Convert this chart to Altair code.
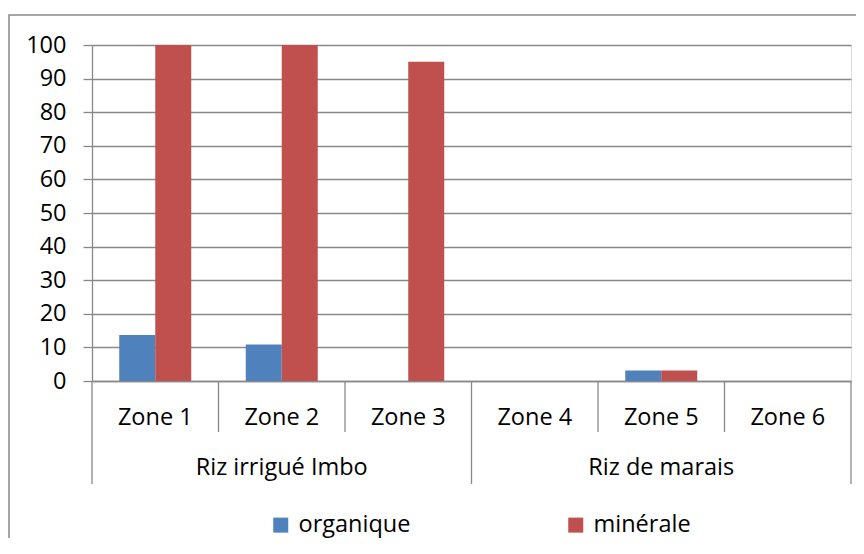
import altair as alt
import pandas as pd

zones = ["Zone 1", "Zone 2", "Zone 3", "Zone 4", "Zone 5", "Zone 6"]
zone_groups = ["Riz irrigué Imbo", "Riz irrigué Imbo", "Riz irrigué Imbo",
               "Riz de marais", "Riz de marais", "Riz de marais"]
series = ["organique", "minérale"]
organique = [13.7, 10.9, 0, 0, 3.1, 0]
minerale = [100, 100, 95, 0, 3.1, 0]
y_ticks = [0, 10, 20, 30, 40, 50, 60, 70, 80, 90, 100]
colors = ["#4F81BD", "#C0504D"]

FONT = "Open Sans"
FS = 23.5
GRAY = "#898989"
W, H = 759, 336

rows = []
for z, o, m in zip(zones, organique, minerale):
    rows.append({"zone": z, "serie": series[0], "valeur": o})
    rows.append({"zone": z, "serie": series[1], "valeur": m})
df = pd.DataFrame(rows)

# separators derived from the group structure
sep_start = []
for i, z in enumerate(zones):
    first_of_group = i == 0 or zone_groups[i] != zone_groups[i - 1]
    sep_start.append({"zone": z, "long": first_of_group})
sep_df = pd.DataFrame(sep_start)
end_df = pd.DataFrame([{"zone": zones[-1]}])

grp_rows = []
for g in dict.fromkeys(zone_groups):
    members = [z for z, gg in zip(zones, zone_groups) if gg == g]
    grp_rows.append({"zone": members[len(members) // 2], "groupe": g})
grp_df = pd.DataFrame(grp_rows)

xscale = alt.Scale(domain=zones, paddingInner=0, paddingOuter=0)

bars = alt.Chart(df).mark_bar().encode(
    x=alt.X("zone:N", scale=xscale, sort=zones,
            axis=alt.Axis(title=None, labelAngle=0, ticks=False, tickSize=0,
                          domain=True, domainColor=GRAY, domainWidth=1.3,
                          labelFont=FONT, labelFontSize=FS, labelColor="#000",
                          labelBaseline="alphabetic", labelPadding=43,
                          grid=False)),
    xOffset=alt.XOffset("serie:N", sort=series,
                        scale=alt.Scale(domain=series, paddingInner=0, paddingOuter=0.757)),
    y=alt.Y("valeur:Q", scale=alt.Scale(domain=[0, 100], nice=False),
            axis=alt.Axis(title=None, values=y_ticks, tickSize=9, tickColor=GRAY,
                          tickWidth=1.3, domainColor=GRAY, domainWidth=1.3,
                          gridColor=GRAY, gridWidth=1.3, grid=True,
                          labelFont=FONT, labelFontSize=FS, labelColor="#000",
                          labelPadding=17)),
    color=alt.Color("serie:N", sort=series,
                    scale=alt.Scale(domain=series, range=colors),
                    legend=alt.Legend(title=None, orient="none", direction="horizontal",
                                      legendX=177, legendY=468, symbolType="square",
                                      symbolSize=225, symbolStrokeWidth=0,
                                      labelFont=FONT, labelFontSize=FS,
                                      labelColor="#000", labelOffset=6,
                                      columnPadding=153, padding=0)),
)

short_sep = alt.Chart(sep_df).transform_filter("!datum.long").mark_rule(
    color=GRAY, strokeWidth=1.3).encode(
    x=alt.X("zone:N", sort=zones, bandPosition=0),
    y=alt.value(H), y2=alt.value(H + 51))

long_sep = alt.Chart(sep_df).transform_filter("datum.long").mark_rule(
    color=GRAY, strokeWidth=1.3).encode(
    x=alt.X("zone:N", sort=zones, bandPosition=0),
    y=alt.value(H), y2=alt.value(H + 103))

end_sep = alt.Chart(end_df).mark_rule(color=GRAY, strokeWidth=1.3).encode(
    x=alt.X("zone:N", sort=zones, bandPosition=1),
    y=alt.value(H), y2=alt.value(H + 103))

grp_text = alt.Chart(grp_df).mark_text(
    font=FONT, fontSize=FS, color="#000", baseline="alphabetic", align="center").encode(
    x=alt.X("zone:N", sort=zones),
    y=alt.value(H + 94),
    text="groupe:N")

frame = alt.Chart(end_df).mark_rect(
    fill="transparent", stroke=GRAY, strokeWidth=1.5).encode(
    x=alt.value(-83), y=alt.value(-30), x2=alt.value(W + 100), y2=alt.value(H + 300))

chart = alt.layer(frame, bars, short_sep, long_sep, end_sep, grp_text).properties(
    width=W, height=H,
    autosize=alt.AutoSizeParams(type="none"),
    padding={"left": 84, "top": 37, "right": 5, "bottom": 157},
).configure_view(stroke=None).configure(background="white")

chart.save("out.html", embed_options={"renderer": "svg", "actions": False})
